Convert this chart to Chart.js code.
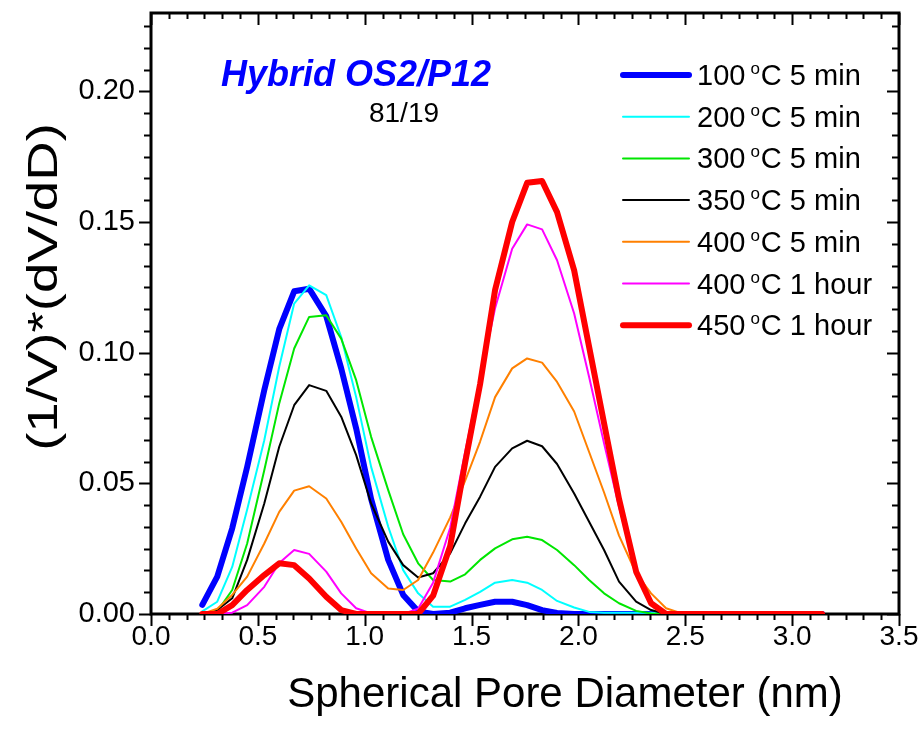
<!DOCTYPE html>
<html>
<head>
<meta charset="utf-8">
<title>Pore size distribution</title>
<script src="https://cdn.jsdelivr.net/npm/chart.js@4.4.1/dist/chart.umd.min.js"></script>
<style>
  html, body { margin: 0; padding: 0; background: #fff; }
  #wrap { width: 922px; height: 740px; }
</style>
</head>
<body>
<div id="wrap"><canvas id="psd"></canvas></div>
<script>
const FONT = '"Liberation Sans", Arial, Helvetica, sans-serif';

// pore diameter (nm)
const diameters = [0.24, 0.31, 0.38, 0.45, 0.53, 0.60, 0.67, 0.74, 0.82, 0.89,
  0.96, 1.03, 1.11, 1.18, 1.25, 1.32, 1.40, 1.47, 1.54, 1.61,
  1.69, 1.76, 1.83, 1.90, 1.98, 2.05, 2.12, 2.19, 2.27, 2.34,
  2.41, 2.48, 2.56, 2.63, 2.70, 2.77, 2.85, 2.92, 2.99, 3.06, 3.14];

// (1/V)*(dV/dD) for each treatment
const c100_5min = [0.0035, 0.0143, 0.0328, 0.0563, 0.0857, 0.109, 0.1235, 0.1245, 0.114, 0.094,
  0.071, 0.044, 0.0207, 0.0073, 0.001, 0, 0.0005, 0.0022, 0.0035, 0.0047,
  0.0047, 0.0034, 0.0015, 0.0004, 0, 0, 0, 0, 0, 0,
  0, 0, 0, 0, 0, 0, 0, 0, 0, 0, 0];
const c200_5min = [0.001, 0.0047, 0.018, 0.040, 0.0665, 0.0946, 0.1188, 0.1258, 0.122, 0.106,
  0.083, 0.0563, 0.0334, 0.0168, 0.0079, 0.0028, 0.0028, 0.0054, 0.0085, 0.012,
  0.013, 0.012, 0.0092, 0.005, 0.0025, 0.0008, 0.0005, 0.0005, 0.0005, 0.0005,
  0.0003, 0, 0, 0, 0, 0, 0, 0, 0, 0, 0];
const c300_5min = [0, 0.001, 0.0092, 0.027, 0.055, 0.0806, 0.1016, 0.1137, 0.1143, 0.1054,
  0.0895, 0.0678, 0.0474, 0.0305, 0.0194, 0.013, 0.0124, 0.0152, 0.0207, 0.0251,
  0.0286, 0.0296, 0.0283, 0.0245, 0.0187, 0.013, 0.0079, 0.0041, 0.0012, 0.0002,
  0, 0, 0, 0, 0, 0, 0, 0, 0, 0, 0];
const c350_5min = [0, 0.0015, 0.006, 0.0207, 0.0423, 0.064, 0.0799, 0.0876, 0.0854, 0.0755,
  0.0608, 0.0423, 0.0277, 0.0187, 0.014, 0.0156, 0.0232, 0.0347, 0.0449, 0.0563,
  0.0634, 0.0663, 0.0642, 0.0574, 0.0461, 0.0353, 0.0245, 0.0124, 0.0047, 0.0015,
  0, 0, 0, 0, 0, 0, 0, 0, 0, 0, 0];
const c400_5min = [0, 0.002, 0.0073, 0.0143, 0.027, 0.0391, 0.0472, 0.0489, 0.0442, 0.0353,
  0.0251, 0.0156, 0.0098, 0.0092, 0.013, 0.0235, 0.037, 0.051, 0.066, 0.083,
  0.094, 0.0978, 0.0962, 0.0888, 0.0775, 0.062, 0.0465, 0.030, 0.0156, 0.0079,
  0.0022, 0.0003, 0, 0, 0, 0, 0, 0, 0, 0, 0];
const c400_1h = [0, 0, 0.0005, 0.0034, 0.0104, 0.0195, 0.0245, 0.023, 0.0162, 0.0079,
  0.0022, 0.0002, 0, 0, 0.002, 0.012, 0.033, 0.062, 0.09, 0.117,
  0.1398, 0.1491, 0.1472, 0.1354, 0.115, 0.0907, 0.0653, 0.041, 0.016, 0.004,
  0, 0, 0, 0, 0, 0, 0, 0, 0, 0, 0];
const c450_1h = [0, 0, 0.0034, 0.0092, 0.0149, 0.0194, 0.0187, 0.0136, 0.0066, 0.0015,
  0, 0, 0, 0, 0, 0.007, 0.026, 0.058, 0.088, 0.124,
  0.150, 0.165, 0.1657, 0.1538, 0.1315, 0.1022, 0.073, 0.044, 0.0162, 0.0041,
  0, 0, 0, 0, 0, 0, 0, 0, 0, 0, 0];

const temps = ["100", "200", "300", "350", "400", "400", "450"];
const times = ["5 min", "5 min", "5 min", "5 min", "5 min", "1 hour", "1 hour"];
const series = [c100_5min, c200_5min, c300_5min, c350_5min, c400_5min, c400_1h, c450_1h];
const colors = ["#0000ff", "#00ffff", "#00e600", "#000000", "#ff8000", "#ff00ff", "#ff0000"];
const widths = [6, 2, 2, 2, 2, 2, 6];

const xTicks = [0, 0.5, 1.0, 1.5, 2.0, 2.5, 3.0, 3.5];
const yTicks = [0, 0.05, 0.10, 0.15, 0.20];

const datasets = series.map((vals, i) => ({
  label: temps[i] + " °C " + times[i],
  data: diameters.map((d, k) => ({ x: d, y: vals[k] })),
  borderColor: colors[i],
  borderWidth: widths[i],
  borderCapStyle: "round",
  borderJoinStyle: "round",
  pointRadius: 0,
  tension: 0,
  fill: false,
  order: series.length - i   // last series on top
}));

// frame, minor/major ticks on all four sides
const frame = {
  id: "frame",
  beforeDatasetsDraw(chart) {
    const { ctx, chartArea: a, scales: { x, y } } = chart;
    ctx.save();
    ctx.strokeStyle = "#000";
    ctx.lineWidth = 2;
    ctx.beginPath();
    for (let i = 0; i <= 42; i++) {
      const px = Math.round(x.getPixelForValue(i * 0.5 / 6)) + 0.5;
      const len = i % 6 === 0 ? 12 : 6;
      ctx.moveTo(px, a.bottom); ctx.lineTo(px, a.bottom + len);
      ctx.moveTo(px, a.top); ctx.lineTo(px, a.top + len);
    }
    for (let i = 0; i <= 27; i++) {
      const py = Math.round(y.getPixelForValue(i * 0.05 / 6)) + 0.5;
      const len = i % 6 === 0 ? 12 : 7;
      ctx.moveTo(a.left, py); ctx.lineTo(a.left - len, py);
      ctx.moveTo(a.right, py); ctx.lineTo(a.right - len, py);
    }
    ctx.stroke();
    ctx.lineWidth = 3;
    ctx.strokeRect(a.left, a.top, a.right - a.left, a.bottom - a.top);
    ctx.restore();
  }
};

// axis titles, sample title and the legend
const texts = {
  id: "texts",
  afterDraw(chart) {
    const { ctx, chartArea: a } = chart;
    ctx.save();
    ctx.fillStyle = "#000";
    ctx.textAlign = "center";
    ctx.textBaseline = "alphabetic";
    ctx.font = "42px " + FONT;
    ctx.fillText("Spherical Pore Diameter (nm)", 565, 707);

    ctx.save();
    ctx.translate(57, 287);
    ctx.rotate(-Math.PI / 2);
    ctx.scale(1.3, 1);
    ctx.fillText("(1/V)*(dV/dD)", 0, 0);
    ctx.restore();

    ctx.fillStyle = "#0000ff";
    ctx.font = "italic bold 36px " + FONT;
    ctx.fillText("Hybrid OS2/P12", 356, 86);
    ctx.fillStyle = "#000";
    ctx.font = "28px " + FONT;
    ctx.fillText("81/19", 404, 122);

    // legend
    const lx0 = a.right - 276, lx1 = a.right - 210, tx = a.right - 202;
    ctx.textAlign = "left";
    chart.data.datasets.forEach((ds, i) => {
      const ry = a.top + 62 + i * 41.7;
      ctx.strokeStyle = ds.borderColor;
      ctx.lineWidth = ds.borderWidth;
      ctx.lineCap = "round";
      ctx.beginPath();
      ctx.moveTo(lx0, ry); ctx.lineTo(lx1, ry);
      ctx.stroke();
      ctx.fillStyle = "#000";
      ctx.font = "29px " + FONT;
      let cx = tx;
      ctx.fillText(temps[i], cx, ry + 10);
      cx += ctx.measureText(temps[i]).width + 5;
      ctx.font = "17px " + FONT;
      ctx.fillText("o", cx, ry - 1);
      cx += ctx.measureText("o").width + 1;
      ctx.font = "29px " + FONT;
      ctx.fillText("C " + times[i], cx, ry + 10);
    });
    ctx.restore();
  }
};

new Chart(document.getElementById("psd"), {
  type: "line",
  data: { datasets },
  options: {
    responsive: true,
    maintainAspectRatio: false,
    animation: false,
    layout: { padding: { top: 13, right: 23, left: 0, bottom: 0 } },
    plugins: { legend: { display: false }, tooltip: { enabled: false } },
    scales: {
      x: {
        type: "linear",
        min: 0, max: 3.5,
        grid: { display: false, drawTicks: false },
        border: { display: false },
        afterBuildTicks: (s) => { s.ticks = xTicks.map(v => ({ value: v })); },
        afterFit: (s) => { s.height = 126; s.paddingLeft = 0; s.paddingRight = 0; },
        ticks: {
          padding: 6, color: "#000",
          font: { family: FONT, size: 28 },
          maxRotation: 0, autoSkip: false,
          callback: (v) => Number(v).toFixed(1)
        }
      },
      y: {
        min: 0, max: 0.23,
        grid: { display: false, drawTicks: false },
        border: { display: false },
        afterBuildTicks: (s) => { s.ticks = yTicks.map(v => ({ value: v })); },
        afterFit: (s) => { s.width = 151; s.paddingTop = 0; s.paddingBottom = 0; },
        ticks: {
          padding: 16, color: "#000",
          font: { family: FONT, size: 29 },
          autoSkip: false,
          callback: (v) => Number(v).toFixed(2)
        }
      }
    }
  },
  plugins: [frame, texts]
});
</script>
</body>
</html>
